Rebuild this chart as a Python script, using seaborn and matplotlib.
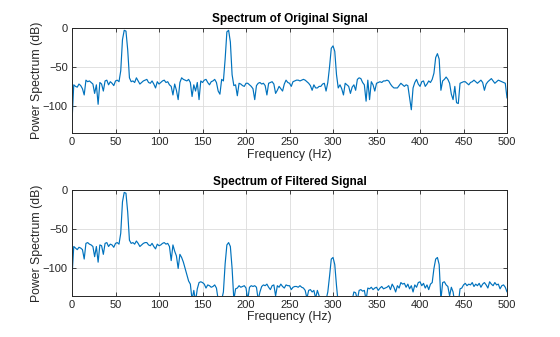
import numpy as np
import matplotlib
matplotlib.use("Agg")
import matplotlib.pyplot as plt
import seaborn as sns

# Frequency grid (Hz)
freq = list(range(0, 502, 2))

# Power spectrum of original signal (dB)
orig_db = [
    -120, -73, -75, -76, -72, -74, -78, -86, -67, -69,
    -68, -70, -72, -84, -73, -98, -70, -72, -81, -68,
    -67, -73, -69, -71, -74, -68, -67, -69, -55, -15,
    -3, -4, -28, -64, -69, -68, -70, -64, -68, -72,
    -70, -68, -67, -66, -70, -71, -68, -72, -77, -69,
    -72, -70, -68, -67, -70, -69, -73, -75, -86, -72,
    -80, -92, -70, -64, -66, -67, -68, -66, -70, -88,
    -73, -81, -70, -92, -68, -70, -67, -66, -70, -73,
    -69, -68, -66, -70, -81, -85, -66, -68, -40, -5,
    -3, -18, -60, -74, -73, -87, -71, -72, -74, -75,
    -71, -71, -73, -75, -78, -92, -74, -71, -70, -72,
    -71, -74, -86, -71, -70, -69, -72, -84, -80, -75,
    -78, -81, -72, -67, -70, -71, -75, -69, -68, -67,
    -67, -68, -67, -66, -67, -69, -71, -74, -80, -73,
    -77, -77, -75, -75, -72, -71, -81, -70, -50, -26,
    -23, -30, -60, -77, -73, -78, -86, -71, -73, -75,
    -84, -76, -73, -80, -66, -64, -65, -70, -73, -94,
    -67, -92, -69, -73, -81, -71, -70, -69, -70, -68,
    -68, -67, -68, -72, -75, -77, -77, -77, -74, -71,
    -73, -75, -73, -74, -90, -105, -77, -70, -66, -72,
    -75, -69, -68, -75, -72, -68, -70, -66, -58, -38,
    -33, -40, -80, -68, -66, -63, -66, -71, -85, -92,
    -75, -96, -97, -71, -70, -69, -69, -71, -73, -70,
    -69, -67, -69, -71, -69, -67, -70, -80, -72, -69,
    -67, -65, -68, -71, -69, -67, -68, -69, -70, -71,
    -90,
]

# Power spectrum of filtered signal (dB)
filt_db = [
    -110, -72, -74, -76, -73, -74, -76, -88, -68, -67,
    -69, -70, -72, -85, -72, -92, -70, -71, -82, -68,
    -67, -72, -69, -70, -73, -68, -67, -69, -55, -15,
    -3, -4, -28, -64, -68, -67, -69, -65, -68, -72,
    -70, -68, -67, -67, -70, -71, -68, -72, -75, -69,
    -71, -70, -68, -67, -69, -68, -72, -90, -70, -78,
    -84, -100, -82, -86, -92, -100, -108, -116, -120, -140,
    -128, -142, -126, -118, -117, -118, -120, -125, -121, -122,
    -124, -123, -121, -125, -140, -150, -140, -130, -94, -70,
    -67, -72, -100, -140, -126, -125, -122, -124, -123, -122,
    -125, -140, -124, -122, -123, -122, -124, -140, -130, -123,
    -121, -122, -120, -124, -127, -122, -121, -135, -122, -124,
    -120, -123, -125, -121, -122, -122, -127, -124, -123, -123,
    -124, -122, -124, -125, -128, -138, -128, -127, -130, -128,
    -138, -128, -135, -145, -140, -150, -140, -130, -110, -88,
    -86, -95, -122, -145, -140, -150, -142, -155, -140, -145,
    -138, -140, -130, -131, -140, -128, -127, -129, -128, -140,
    -125, -126, -124, -127, -125, -124, -128, -125, -123, -126,
    -125, -124, -122, -127, -120, -124, -130, -122, -125, -118,
    -120, -119, -124, -120, -126, -122, -130, -121, -124, -118,
    -117, -122, -119, -125, -121, -127, -120, -118, -100, -88,
    -86, -95, -140, -118, -117, -121, -123, -135, -124, -130,
    -145, -140, -145, -126, -125, -121, -119, -122, -120, -121,
    -118, -123, -120, -122, -119, -124, -120, -118, -121, -125,
    -117, -120, -122, -118, -121, -120, -126, -122, -121, -124,
    -130,
]

titles = ["Spectrum of Original Signal", "Spectrum of Filtered Signal"]
xlabel = "Frequency (Hz)"
ylabel = "Power Spectrum (dB)"
xticks = list(range(0, 501, 50))
yticks = [-100, -50, 0]

sns.set_theme(style="whitegrid")
plt.rcParams["font.family"] = ["Liberation Sans", "DejaVu Sans"]

fig = plt.figure(figsize=(5.6, 3.37), dpi=100)
ax1 = fig.add_axes([0.1286, 0.605, 0.7768, 0.312])
ax2 = fig.add_axes([0.1286, 0.122, 0.7768, 0.314])

line_color = "#0072BD"
edge = "#262626"

for ax, vals, title in [(ax1, orig_db, titles[0]), (ax2, filt_db, titles[1])]:
    ax.set_facecolor("white")
    sns.lineplot(x=freq, y=vals, ax=ax, color=line_color, linewidth=0.85)
    ax.set_xlim(0, 500)
    ax.set_ylim(-135, 0)
    ax.set_xticks(xticks)
    ax.set_yticks(yticks)
    ax.tick_params(axis="both", which="both", direction="in", length=3,
                   width=0.6, color=edge, labelsize=8, labelcolor=edge,
                   top=True, right=True, bottom=True, left=True, pad=3)
    ax.grid(True, color="#dcdcdc", linewidth=0.6)
    for s in ax.spines.values():
        s.set_color(edge)
        s.set_linewidth(0.7)
        s.set_visible(True)
    ax.set_title(title, fontsize=8.5, fontweight="bold", color="#000000", pad=4)
    ax.set_xlabel(xlabel, fontsize=8.8, color=edge, labelpad=1)
    ax.set_ylabel(ylabel, fontsize=8.8, color=edge, labelpad=0)

fig.savefig("out.png", dpi=100, facecolor="white")
